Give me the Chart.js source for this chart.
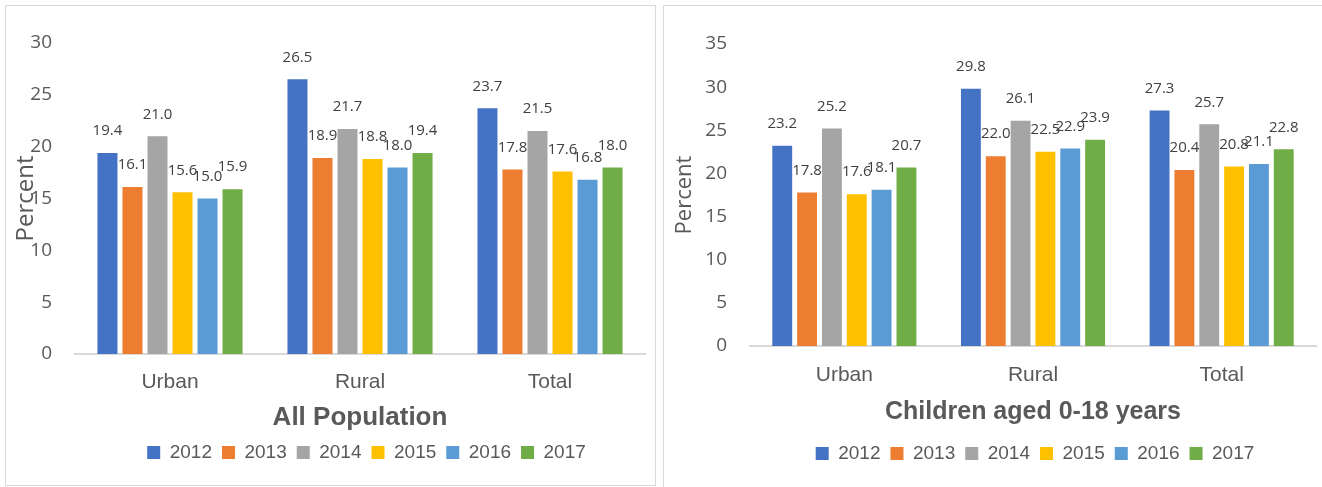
<!DOCTYPE html>
<html>
<head>
<meta charset="utf-8">
<script src="https://cdn.jsdelivr.net/npm/chart.js@4.4.1/dist/chart.umd.min.js"></script>
<style>
  html, body { margin:0; padding:0; background:#fff; width:1322px; height:487px; overflow:hidden; }
  .panel { position:absolute; border:1px solid #d9d9d9; box-sizing:border-box; }
  .cv { position:absolute; }
</style>
</head>
<body>
<div class="panel" style="left:5px;top:5px;width:651px;height:481px;"></div>
<div class="panel" style="left:663px;top:5px;width:670px;height:490px;"></div>
<div class="cv" style="left:0;top:0;width:660px;height:487px;"><canvas id="c1"></canvas></div>
<div class="cv" style="left:660px;top:0;width:662px;height:487px;"><canvas id="c2"></canvas></div>
<script>
// ---- data ----
const categories = ['Urban', 'Rural', 'Total'];
const years = ['2012', '2013', '2014', '2015', '2016', '2017'];
const allPop2012 = [19.4, 26.5, 23.7];
const allPop2013 = [16.1, 18.9, 17.8];
const allPop2014 = [21.0, 21.7, 21.5];
const allPop2015 = [15.6, 18.8, 17.6];
const allPop2016 = [15.0, 18.0, 16.8];
const allPop2017 = [15.9, 19.4, 18.0];
const child2012 = [23.2, 29.8, 27.3];
const child2013 = [17.8, 22.0, 20.4];
const child2014 = [25.2, 26.1, 25.7];
const child2015 = [17.6, 22.5, 20.8];
const child2016 = [18.1, 22.9, 21.1];
const child2017 = [20.7, 23.9, 22.8];
const yTicksLeft = [0, 5, 10, 15, 20, 25, 30];
const yTicksRight = [0, 5, 10, 15, 20, 25, 30, 35];
const colors = ['#4472C4', '#ED7D31', '#A5A5A5', '#FFC000', '#5B9BD5', '#70AD47'];

const NARROW = "'Liberation Sans', 'Arimo', sans-serif";
const SANS = "'Open Sans', 'DejaVu Sans', sans-serif";

const labelPlugin = {
  id: 'valueLabels',
  afterDatasetsDraw(chart) {
    const ctx = chart.ctx;
    ctx.save();
    ctx.font = "15px " + SANS;
    ctx.fillStyle = '#404040';
    ctx.textAlign = 'center';
    ctx.textBaseline = 'middle';
    chart.data.datasets.forEach((ds, i) => {
      const meta = chart.getDatasetMeta(i);
      meta.data.forEach((el, j) => {
        ctx.fillText(ds.data[j].toFixed(1), el.x, el.y - 22);
      });
    });
    ctx.restore();
  }
};

const legendShift = {
  id: 'legendShift',
  afterLayout(chart, args, opts) {
    const lg = chart.legend;
    if (lg && opts.dx) { lg.left += opts.dx; lg.right += opts.dx; }
  }
};

function makeChart(id, series, tickVals, maxV, title, opts) {
  const datasets = series.map((d, i) => ({
    label: years[i],
    data: d,
    backgroundColor: colors[i],
    borderWidth: 0,
    categoryPercentage: 0.79,
    barPercentage: 0.8
  }));
  return new Chart(document.getElementById(id), {
    type: 'bar',
    data: { labels: categories, datasets },
    plugins: [labelPlugin, legendShift],
    options: {
      responsive: true,
      maintainAspectRatio: false,
      animation: false,
      layout: { padding: opts.padding },
      plugins: {
        legendShift: { dx: opts.legendDx },
        legend: {
          position: 'bottom',
          labels: {
            boxWidth: 13, boxHeight: 13, padding: 10,
            color: '#595959',
            font: { family: NARROW, size: 19 }
          }
        },
        tooltip: { enabled: false }
      },
      scales: {
        x: {
          grid: { display: false, drawTicks: false },
          border: { display: true, color: '#d9d9d9', width: 2 },
          ticks: { color: '#595959', font: { family: NARROW, size: 21 }, padding: opts.xTickPad },
          title: {
            display: true, text: title, color: '#595959',
            font: { family: NARROW, size: opts.tSize, weight: 'bold' },
            padding: { top: 0, bottom: opts.titlePad }
          },
          afterFit(s) { s.height = opts.xH; }
        },
        y: {
          min: 0, max: maxV,
          grid: { display: false, drawTicks: false },
          border: { display: false },
          afterBuildTicks(s) { s.ticks = tickVals.map(v => ({ value: v })); },
          ticks: { color: '#595959', font: { family: SANS, size: 19 }, padding: 23 },
          title: {
            display: true, text: 'Percent', color: '#595959',
            font: { family: SANS, size: opts.pSize },
            padding: { top: opts.pPad, bottom: 0 }
          },
          afterFit(s) { s.width = opts.yW; }
        }
      }
    }
  });
}

makeChart('c1', [allPop2012, allPop2013, allPop2014, allPop2015, allPop2016, allPop2017],
  yTicksLeft, 30, 'All Population',
  { padding: { top: 43, left: 0, right: 15, bottom: 15 }, xH: 79, titlePad: 0, tSize: 26, xTickPad: 16, yW: 75, pSize: 24, pPad: 12, legendDx: 44 });

makeChart('c2', [child2012, child2013, child2014, child2015, child2016, child2017],
  yTicksRight, 35, 'Children aged 0-18 years',
  { padding: { top: 44, left: 0, right: 6, bottom: 14 }, xH: 88, titlePad: 7, tSize: 25, xTickPad: 17, yW: 90, pSize: 22, pPad: 12, legendDx: 47 });
</script>
</body>
</html>
